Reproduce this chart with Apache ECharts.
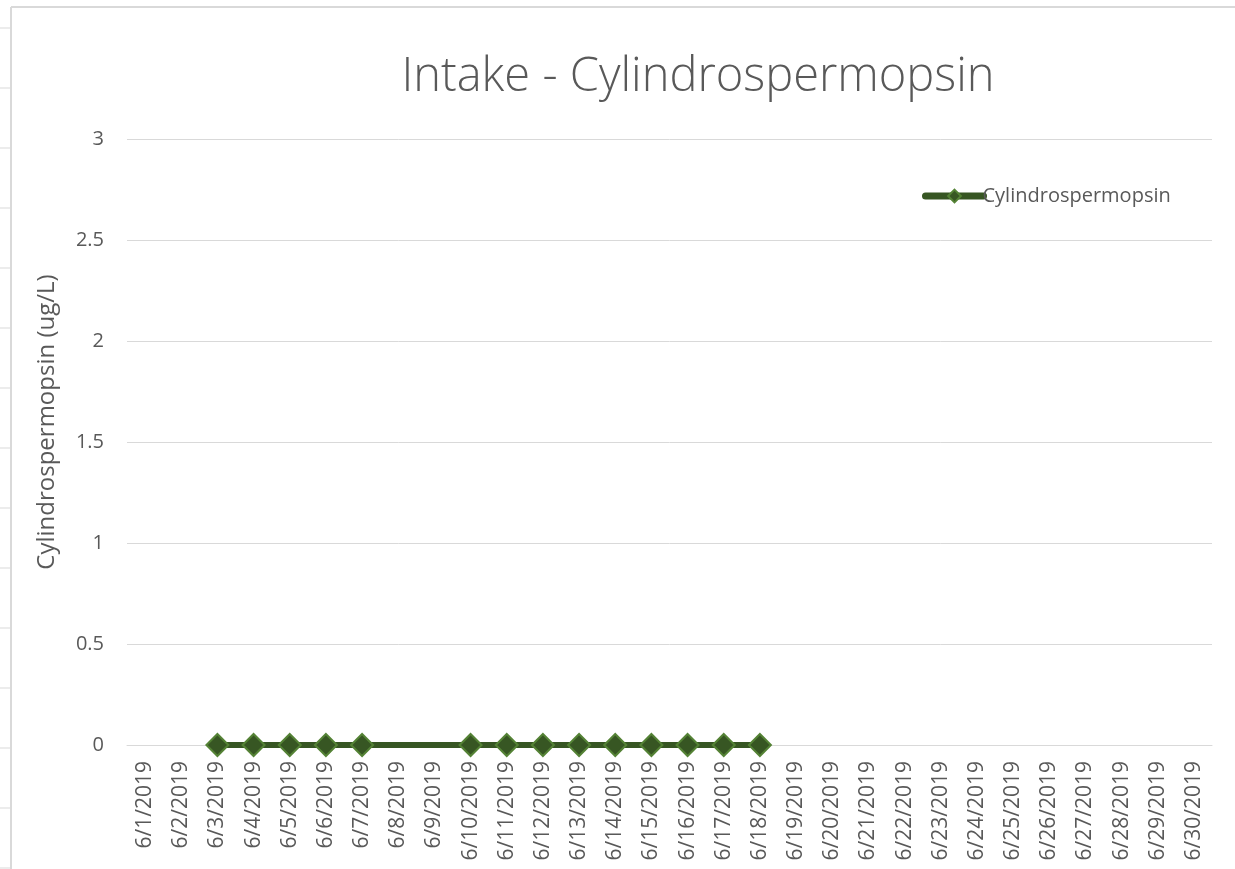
<!DOCTYPE html>
<html>
<head>
<meta charset="utf-8">
<script src="https://cdn.jsdelivr.net/npm/echarts@6/dist/echarts.min.js"></script>
<style>
  html, body { margin: 0; padding: 0; background: #fff; }
  #main { width: 1235px; height: 869px; }
</style>
</head>
<body>
<div id="main"></div>
<script>
// dates on the x axis
const dates = [
  "6/1/2019", "6/2/2019", "6/3/2019", "6/4/2019", "6/5/2019", "6/6/2019",
  "6/7/2019", "6/8/2019", "6/9/2019", "6/10/2019", "6/11/2019", "6/12/2019",
  "6/13/2019", "6/14/2019", "6/15/2019", "6/16/2019", "6/17/2019", "6/18/2019",
  "6/19/2019", "6/20/2019", "6/21/2019", "6/22/2019", "6/23/2019", "6/24/2019",
  "6/25/2019", "6/26/2019", "6/27/2019", "6/28/2019", "6/29/2019", "6/30/2019"
];
// Cylindrospermopsin (ug/L), null = no sample
const cylindro = [
  null, null, 0, 0, 0, 0,
  0, null, null, 0, 0, 0,
  0, 0, 0, 0, 0, 0,
  null, null, null, null, null, null,
  null, null, null, null, null, null
];

const font = "'Open Sans', 'Liberation Sans', sans-serif";
const textColor = "#595959";

let myChart = echarts.init(document.getElementById("main"));

// sheet gridline stubs left of the chart frame
let stubs = [];
for (let y = 28; y < 869; y += 60) {
  stubs.push({
    type: "line",
    shape: { x1: 0, y1: y, x2: 10, y2: y },
    style: { stroke: "#d9d9d9", lineWidth: 1 },
  });
}

let option = {
  animation: false,
  backgroundColor: "#fff",
  textStyle: { fontFamily: font },
  title: {
    text: "Intake - Cylindrospermopsin",
    left: 693,
    textAlign: "center",
    top: 49,
    textStyle: { fontFamily: font, fontSize: 47, fontWeight: 300, color: textColor },
  },
  legend: {
    data: ["Cylindrospermopsin"],
    left: 917,
    top: 181,
    itemWidth: 58,
    itemHeight: 16,
    itemGap: 4,
    lineStyle: { width: 7, cap: "round" },
    textStyle: { fontFamily: font, fontSize: 20, color: textColor, padding: [0, 0, 0, -6] },
  },
  grid: { left: 127, right: 23, top: 139, bottom: 124, outerBoundsMode: "none", containLabel: false },
  graphic: [
    {
      type: "line",
      shape: { x1: 11, y1: 7, x2: 1235, y2: 7 },
      style: { stroke: "#d9d9d9", lineWidth: 2 },
    },
    {
      type: "line",
      shape: { x1: 11, y1: 7, x2: 11, y2: 869 },
      style: { stroke: "#d9d9d9", lineWidth: 2 },
    },
  ].concat(stubs),
  xAxis: {
    type: "category",
    data: dates,
    boundaryGap: true,
    axisLine: { show: true, lineStyle: { color: "#d9d9d9", width: 1 } },
    axisTick: { show: false },
    axisLabel: {
      interval: 0,
      rotate: 90,
      margin: 16,
      fontFamily: font,
      fontSize: 21,
      color: textColor,
    },
  },
  yAxis: {
    type: "value",
    min: 0,
    max: 3,
    interval: 0.5,
    name: "Cylindrospermopsin (ug/L)",
    nameLocation: "middle",
    nameGap: 68,
    nameTextStyle: { fontFamily: font, fontSize: 24, color: textColor, padding: [0, 0, 0, 40] },
    axisLine: { show: false },
    axisTick: { show: false },
    axisLabel: { margin: 23, fontFamily: font, fontSize: 20, color: textColor },
    splitLine: { lineStyle: { color: "#d9d9d9", width: 1 } },
  },
  series: [
    {
      name: "Cylindrospermopsin",
      type: "line",
      data: cylindro,
      connectNulls: true,
      symbol: "diamond",
      symbolSize: 22,
      lineStyle: { color: "#375623", width: 6 },
      itemStyle: { color: "#375623", borderColor: "#548235", borderWidth: 2 },
    },
  ],
};

option && myChart.setOption(option);
</script>
</body>
</html>
